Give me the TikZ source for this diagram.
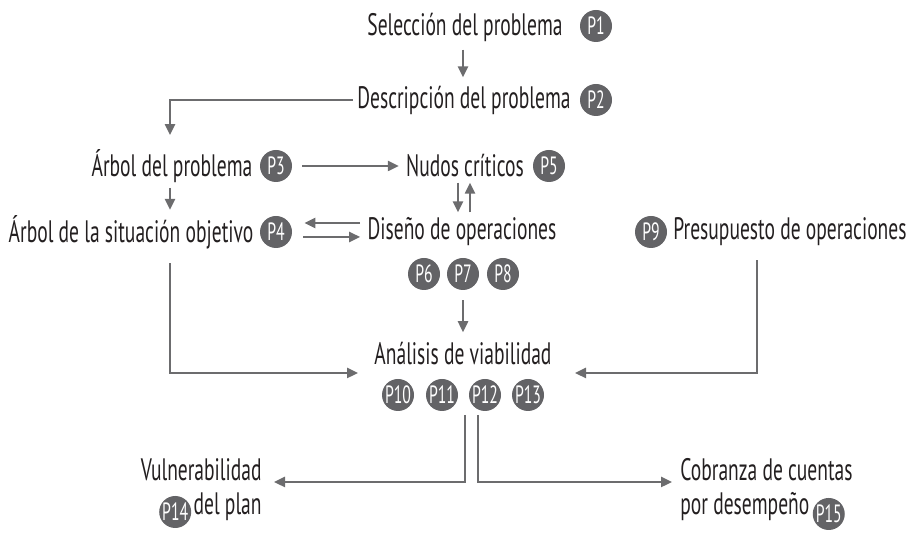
\documentclass[tikz,border=0pt]{standalone}
\usepackage{fontspec}
\setmainfont[FakeStretch=0.63]{PT Sans}
\usetikzlibrary{arrows.meta}
\definecolor{badgegray}{RGB}{99,99,102}
\definecolor{linegray}{RGB}{108,108,110}
\definecolor{txtgray}{RGB}{35,31,32}
\begin{document}
\begin{tikzpicture}[x=0.5pt,y=-0.5pt]
  \tikzstyle{every node}=[inner sep=0pt, text=txtgray, font=\fontsize{15.5}{17}\selectfont]
  \tikzstyle{badge}=[circle, fill=badgegray, minimum size=16pt, text=white, font=\fontsize{12.5}{13}\selectfont]
  \tikzstyle{link}=[draw=linegray, line width=1.2pt, -{Triangle[length=5.5pt,width=5pt]}]
  \useasboundingbox (0,0) rectangle (917,544);

  % steps
  \path (465,27) node (sel) {Selección del problema};
  \path (464,100) node (desc) {Descripción del problema};
  \path (172,166) node (arb) {Árbol del problema};
  \path (465,166) node (nud) {Nudos críticos};
  \path (131,232) node (obj) {Árbol de la situación objetivo};
  \path (462,232) node (dis) {Diseño de operaciones};
  \path (790,232) node (pre) {Presupuesto de operaciones};
  \path (463,354) node (ana) {Análisis de viabilidad};
  \path (262,470) node[anchor=east] (vul) {Vulnerabilidad};
  \path (262,507) node[anchor=east] (vulb) {del plan};
  \path (680,470) node[anchor=west] (cob) {Cobranza de cuentas};
  \path (680,507) node[anchor=west] (cobb) {por desempeño};

  % badges
  \path (596,26) node[badge] (p1) {P1};
  \path (596,100) node[badge] (p2) {P2};
  \path (276,166) node[badge] (p3) {P3};
  \path (276,232) node[badge] (p4) {P4};
  \path (549,166) node[badge] (p5) {P5};
  \foreach \i/\x in {6/424, 7/463, 8/503}
  {
    \path (\x,274) node[badge] (p\i) {P\i};
  }
  \path (651,232) node[badge] (p9) {P9};
  \foreach \i/\x in {10/398, 11/442, 12/485, 13/528}
  {
    \path (\x,395) node[badge] (p\i) {P\i};
  }
  \path ([xshift=-9pt,yshift=-2.5pt]vulb.west) node[badge] (p14) {P14};
  \path ([xshift=9.5pt,yshift=-3.5pt]cobb.east) node[badge] (p15) {P15};

  % free ends
  \coordinate (lft) at (170,0);
  \coordinate (rgt) at (757,0);
  \coordinate (inl) at (358,373);
  \coordinate (inr) at (575,373);
  \coordinate (outl) at (465,415);
  \coordinate (outr) at (478,415);
  \coordinate (tol) at (274,482);
  \coordinate (tor) at (672,482);

  \draw [link, shorten <=4pt, shorten >=4pt] (sel.south -| p7) -- (desc.north -| p7);
  \draw [link, shorten <=2pt, shorten >=7pt] (desc.west) -| (arb.north -| lft);
  \draw [link, shorten <=5pt, shorten >=3.5pt] (p3) -- (nud);
  \draw [link, shorten <=2.5pt, shorten >=2.5pt] ([xshift=-3.5pt]nud.south) -- ([xshift=-3.5pt]nud.south |- dis.north);
  \draw [link, shorten <=2.5pt, shorten >=2.5pt] ([xshift=2.5pt]nud.south |- dis.north) -- ([xshift=2.5pt]nud.south);
  \draw [link, shorten <=2.5pt, shorten >=2.5pt] (arb.south -| lft) -- (obj.north -| lft);
  \draw [link, shorten <=3.5pt, shorten >=6pt] ([yshift=4.5pt]dis.west) -- ([yshift=4.5pt]dis.west -| p4.east);
  \draw [link, shorten <=5.5pt, shorten >=3.5pt] ([yshift=-2.5pt]dis.west -| p4.east) -- ([yshift=-2.5pt]dis.west);
  \draw [link, shorten <=5pt, shorten >=5pt] (p7.south) -- (ana.north -| p7);
  \draw [link, shorten <=7pt] (obj.south -| lft) |- (inl);
  \draw [link, shorten <=7pt] (pre.south -| rgt) |- (inr);
  \draw [link] (outl) |- (tol);
  \draw [link] (outr) |- (tor);
\end{tikzpicture}
\end{document}
